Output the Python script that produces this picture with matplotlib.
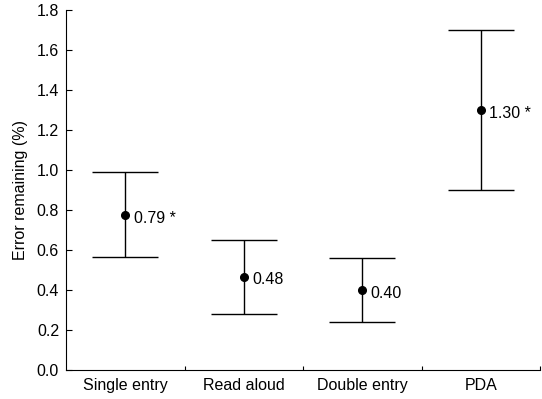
import matplotlib
matplotlib.use("Agg")
import matplotlib.pyplot as plt
import numpy as np

# data
categories = ["Single entry", "Read aloud", "Double entry", "PDA"]
means = [0.775, 0.465, 0.40, 1.30]
lower = [0.565, 0.28, 0.24, 0.90]
upper = [0.99, 0.65, 0.56, 1.70]
labels = ["0.79 *", "0.48", "0.40", "1.30 *"]

plt.rcParams["font.family"] = ["Liberation Sans", "DejaVu Sans"]
fs = 11.5

fig = plt.figure(figsize=(5.42, 3.99), dpi=100)
ax = fig.add_axes([66 / 542, 29 / 399, 474 / 542, 360 / 399])

x = np.arange(len(categories)) + 0.5
m = np.array(means)
yerr = [m - np.array(lower), np.array(upper) - m]
ax.errorbar(x, m, yerr=yerr, fmt="o", color="black", ms=5.5, elinewidth=1,
            capsize=24, capthick=1)

for xi, yi, lab in zip(x, means, labels):
    ax.text(xi + 0.07, yi - 0.015, lab, ha="left", va="center", fontsize=fs)

ax.set_xlim(0, 4)
ax.set_ylim(0, 1.8)
ax.set_yticks(np.arange(0, 1.81, 0.2))
ax.set_yticklabels([f"{v:.1f}" for v in np.arange(0, 1.81, 0.2)])
ax.set_xticks([1, 2, 3, 4])
ax.set_xticklabels([])
ax.set_xticks(x, minor=True)
ax.set_xticklabels(categories, minor=True)
ax.tick_params(axis="x", which="minor", length=0, labelsize=fs, pad=6)
ax.tick_params(axis="x", which="major", direction="in", length=3, width=0.8)
ax.tick_params(axis="y", direction="in", length=4, width=0.8, labelsize=fs, pad=5)
ax.set_ylabel("Error remaining (%)", fontsize=fs, labelpad=6)

for s in ["top", "right"]:
    ax.spines[s].set_visible(False)
for s in ["left", "bottom"]:
    ax.spines[s].set_linewidth(0.8)

fig.savefig("out.png", dpi=100)
